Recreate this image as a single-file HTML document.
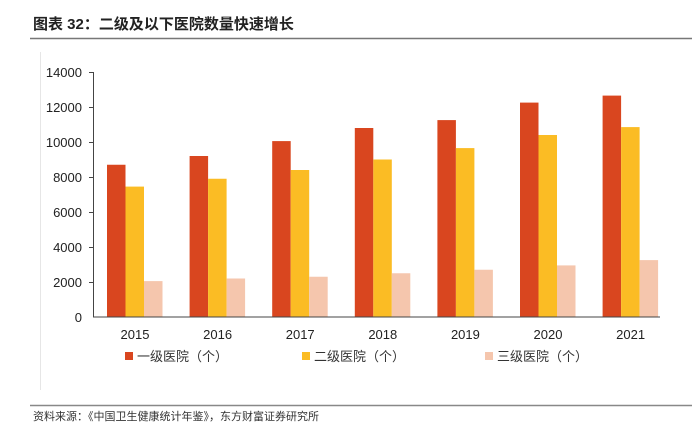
<!DOCTYPE html><html><head><meta charset="utf-8"><style>body{margin:0;background:#fff}svg text{font-family:"Liberation Sans","Noto Sans CJK SC",sans-serif}</style></head><body>
<svg width="700" height="435" xmlns="http://www.w3.org/2000/svg">
<text x="33" y="29" font-size="15" font-weight="bold" fill="#222" font-family="Noto Serif CJK SC,serif">图表 32：二级及以下医院数量快速增长</text>
<line x1="30" y1="38.5" x2="692" y2="38.5" stroke="#777" stroke-width="1.5"/>
<line x1="40.5" y1="52" x2="40.5" y2="390" stroke="#e6e6e6"/>
<g font-size="13" fill="#222" text-anchor="end">
<text x="82" y="77">14000</text><text x="82" y="112">12000</text><text x="82" y="147">10000</text><text x="82" y="182">8000</text><text x="82" y="217">6000</text><text x="82" y="252">4000</text><text x="82" y="287">2000</text><text x="82" y="322">0</text></g>
<g fill="#d9461f">
<rect x="107" y="164.75" width="18.5" height="152.25"/><rect x="189.6" y="156" width="18.5" height="161"/><rect x="272.2" y="141.1" width="18.5" height="175.9"/><rect x="354.8" y="128" width="18.5" height="189"/><rect x="437.4" y="120.1" width="18.5" height="196.9"/><rect x="520" y="102.6" width="18.5" height="214.4"/><rect x="602.6" y="95.6" width="18.5" height="221.4"/></g>
<g fill="#fbbc24">
<rect x="125.5" y="186.6" width="18.5" height="130.4"/><rect x="208.1" y="178.75" width="18.5" height="138.25"/><rect x="290.7" y="170" width="18.5" height="147"/><rect x="373.3" y="159.5" width="18.5" height="157.5"/><rect x="455.9" y="148.1" width="18.5" height="168.9"/><rect x="538.5" y="135" width="18.5" height="182"/><rect x="621.1" y="127.1" width="18.5" height="189.9"/></g>
<g fill="#f5c6ad">
<rect x="144" y="281.1" width="18.5" height="35.9"/><rect x="226.6" y="278.5" width="18.5" height="38.5"/><rect x="309.2" y="276.75" width="18.5" height="40.25"/><rect x="391.8" y="273.25" width="18.5" height="43.75"/><rect x="474.4" y="269.75" width="18.5" height="47.25"/><rect x="557" y="265.4" width="18.5" height="51.6"/><rect x="639.6" y="260.1" width="18.5" height="56.9"/></g>
<g stroke="#444"><line x1="93.5" y1="72" x2="93.5" y2="317"/><line x1="93" y1="317" x2="660" y2="317"/>
<line x1="89" y1="72.5" x2="93" y2="72.5"/><line x1="89" y1="107.5" x2="93" y2="107.5"/><line x1="89" y1="142.5" x2="93" y2="142.5"/><line x1="89" y1="177.5" x2="93" y2="177.5"/><line x1="89" y1="212.5" x2="93" y2="212.5"/><line x1="89" y1="247.5" x2="93" y2="247.5"/><line x1="89" y1="282.5" x2="93" y2="282.5"/></g>
<g font-size="13" fill="#222" text-anchor="middle">
<text x="135" y="339">2015</text><text x="217.6" y="339">2016</text><text x="300.2" y="339">2017</text><text x="382.8" y="339">2018</text><text x="465.4" y="339">2019</text><text x="548" y="339">2020</text><text x="630.6" y="339">2021</text></g>
<rect x="125" y="352" width="8" height="8" fill="#d9461f"/><text x="137" y="361" font-size="13" fill="#333">一级医院（个）</text>
<rect x="302" y="352" width="8" height="8" fill="#fbbc24"/><text x="314" y="361" font-size="13" fill="#333">二级医院（个）</text>
<rect x="485" y="352" width="8" height="8" fill="#f5c6ad"/><text x="497" y="361" font-size="13" fill="#333">三级医院（个）</text>
<line x1="30" y1="405.5" x2="692" y2="405.5" stroke="#888" stroke-width="1.5"/>
<text x="33" y="420" font-size="11" fill="#333">资料来源：《中国卫生健康统计年鉴》，东方财富证券研究所</text>
</svg></body></html>
